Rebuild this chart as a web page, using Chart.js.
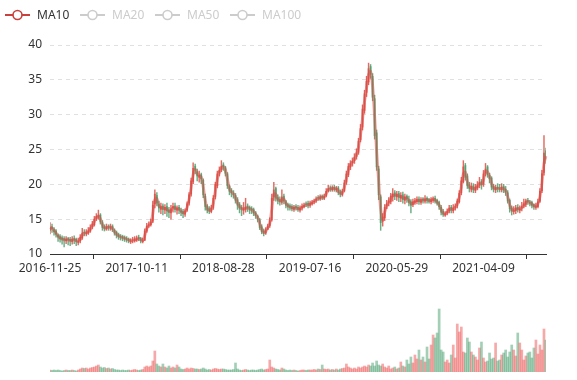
<!DOCTYPE html>
<html><head><meta charset="utf-8">
<script src="https://cdn.jsdelivr.net/npm/chart.js@4.4.1/dist/chart.umd.min.js"></script>
<style>
html,body{margin:0;padding:0;background:#fff;}
#wrap{position:relative;width:577px;height:380px;overflow:hidden;font-family:"Noto Sans",sans-serif;}
#main{position:absolute;left:0;top:0;}
#vol{position:absolute;left:0;top:290px;}
.leg{position:absolute;top:6px;height:18px;font-size:12px;line-height:18px;white-space:nowrap;}
.leg svg{position:absolute;left:0;top:2px;}
.leg span{position:absolute;left:32px;top:0;}
</style></head><body>
<div id="wrap">
<canvas id="main" width="577" height="290"></canvas>
<canvas id="vol" width="577" height="90"></canvas>
<div id="legend"></div>
</div>
<script>
// x-axis tick labels (one every 43 weekly categories)
const tickLabels = ['2016-11-25','2017-10-11','2018-08-28','2019-07-16','2020-05-29','2021-04-09'];
const legendNames = ['MA10','MA20','MA50','MA100'];
const legendActive = [true,false,false,false];

// weekly candles
const opens = [
13.4,13.9,13.5,13.3,12.7,12.5,12.3,12.2,11.9,12.2,
12.1,11.8,12.2,12.1,11.7,11.9,12.3,13.1,12.9,13.0,
13.3,13.9,14.2,15.1,15.3,15.6,14.5,13.9,13.6,14.0,
13.7,14.0,13.4,13.1,12.8,12.5,12.5,12.3,12.2,12.1,
11.8,12.0,11.9,12.0,12.4,12.2,11.8,12.0,13.3,14.1,
14.2,14.7,17.2,18.4,17.1,16.4,16.9,16.3,16.8,16.3,
15.9,16.6,16.9,16.3,16.7,16.2,16.1,15.7,16.3,17.3,
18.6,20.4,22.6,21.8,21.0,21.4,20.6,18.3,16.9,16.5,
16.1,16.7,18.2,19.8,21.6,22.1,22.8,22.4,21.5,19.7,
19.1,18.7,18.4,17.8,17.1,16.7,16.3,16.4,16.9,16.7,
16.5,16.4,15.9,15.4,14.9,13.9,13.3,13.0,13.6,14.1,
14.9,18.2,19.4,18.1,17.8,17.4,18.3,17.5,17.1,16.9,
16.8,16.4,16.8,16.7,16.3,16.6,16.8,17.2,17.3,17.0,
17.2,17.5,17.7,18.1,17.9,18.3,18.0,18.4,19.1,19.5,
19.2,19.6,19.2,19.5,18.9,18.5,19.1,20.3,21.4,22.5,
23.1,23.4,24.0,24.6,26.4,28.2,30.6,33.2,34.7,36.9,
35.5,32.3,27.4,22.2,18.2,14.7,15.2,16.9,17.4,17.5,
18.2,18.8,18.2,18.7,18.0,18.5,17.7,18.3,17.8,17.5,
17.1,17.4,17.5,17.9,17.4,17.9,17.6,18.0,17.8,17.5,
17.7,18.0,17.7,17.4,16.7,16.1,15.6,15.9,16.2,16.7,
16.2,16.7,16.9,17.5,18.8,20.4,22.7,21.2,19.9,19.2,
19.8,19.1,19.5,19.9,20.4,20.0,21.6,22.5,21.3,20.9,
19.7,19.2,19.6,19.5,19.2,19.7,19.3,18.8,17.7,16.6,
16.1,16.2,16.7,16.3,16.6,16.9,17.1,17.7,17.4,17.4,
17.1,16.7,16.8,17.6,19.1,21.7,24.8];
const closes = [
13.8,13.6,13.2,12.8,12.4,12.2,12.1,12.0,12.1,12.0,
11.9,12.1,12.0,11.8,11.8,12.4,13.0,13.0,13.1,13.3,
13.8,14.3,15.0,15.4,15.5,14.6,13.8,13.7,13.9,13.8,
13.9,13.5,13.0,12.7,12.5,12.4,12.3,12.2,12.1,11.9,
11.9,12.0,12.1,12.2,12.2,11.9,12.0,13.3,14.0,14.2,
14.6,17.0,18.6,17.3,16.6,16.8,16.4,16.7,16.2,16.0,
16.5,16.8,16.4,16.6,16.3,16.0,15.8,16.2,17.2,18.5,
20.5,22.3,22.0,21.2,21.3,20.8,18.5,16.8,16.3,16.2,
16.6,18.0,20.0,21.5,22.0,22.6,22.5,21.6,19.8,19.0,
18.8,18.5,17.7,17.0,16.6,16.4,16.5,16.7,16.6,16.4,
16.3,15.9,15.5,15.0,13.8,13.2,13.0,13.5,14.0,14.8,
18.0,19.2,18.0,17.7,17.5,18.2,17.6,17.0,16.8,16.7,
16.5,16.7,16.6,16.4,16.6,16.8,17.0,17.1,17.0,17.3,
17.4,17.6,17.9,18.0,18.2,18.1,18.3,19.0,19.4,19.3,
19.5,19.3,19.4,18.8,18.6,19.0,20.2,21.5,22.6,23.0,
23.3,23.9,24.5,26.2,28.0,30.8,33.0,34.8,36.6,35.8,
32.5,27.0,22.5,18.5,14.5,15.3,16.7,17.2,17.6,18.3,
18.6,18.3,18.6,18.1,18.4,17.8,18.2,17.9,17.4,17.0,
17.5,17.6,17.8,17.5,17.8,17.7,17.9,17.7,17.6,17.8,
17.9,17.6,17.3,16.8,16.0,15.7,15.8,16.1,16.6,16.3,
16.6,16.8,17.6,18.7,20.5,22.5,21.0,19.8,19.4,19.7,
19.2,19.6,19.8,20.3,19.9,21.5,22.2,21.4,20.8,19.6,
19.3,19.5,19.4,19.3,19.6,19.2,18.9,17.6,16.5,16.2,
16.3,16.6,16.4,16.5,16.8,17.2,17.6,17.5,17.3,17.0,
16.8,16.9,17.5,19.0,21.5,24.5,23.6];
const highs = [
14.5,14.3,13.8,13.5,12.9,12.8,12.6,12.5,12.5,12.4,
12.4,12.5,12.6,12.3,12.3,12.8,13.7,13.5,13.5,13.8,
14.2,14.7,15.4,15.8,16.3,15.8,14.8,14.2,14.3,14.2,
14.3,14.2,13.6,13.3,13.0,12.8,12.7,12.6,12.5,12.3,
12.2,12.4,12.5,12.6,12.7,12.4,12.3,13.6,14.4,14.6,
15.0,17.6,19.2,18.8,17.6,17.3,17.2,17.1,17.3,16.7,
17.0,17.3,17.3,16.9,17.0,16.6,16.4,16.5,17.5,18.8,
20.9,23.1,22.9,22.2,21.9,21.6,20.8,18.6,17.1,16.8,
17.0,18.4,20.3,21.9,22.5,23.4,23.1,22.6,21.7,19.9,
19.4,19.1,18.7,18.1,17.4,17.0,17.4,18.0,17.2,16.9,
16.8,16.6,16.1,15.6,15.1,14.2,13.6,13.8,14.3,15.2,
18.6,20.3,19.6,18.5,18.2,19.2,18.6,17.7,17.3,17.2,
17.1,17.0,17.1,17.0,16.9,17.2,17.3,17.5,17.6,17.6,
17.7,17.9,18.2,18.4,18.5,18.5,18.6,19.4,19.9,19.8,
19.8,19.9,19.7,19.7,19.2,19.3,20.6,21.9,23.0,23.4,
23.8,24.4,25.1,26.6,28.6,31.4,33.5,35.5,37.4,37.2,
35.9,32.8,27.8,22.6,18.5,15.8,17.1,17.7,18.1,18.7,
19.4,19.1,19.0,19.0,18.8,18.9,18.6,18.5,18.3,17.8,
17.9,18.0,18.2,18.2,18.1,18.1,18.4,18.2,18.0,18.1,
18.2,18.3,17.9,17.6,17.0,16.4,16.1,16.5,17.0,17.0,
17.1,17.2,17.9,19.1,21.0,23.4,23.0,21.5,20.3,20.2,
20.1,20.0,20.4,21.0,20.7,22.0,23.0,22.7,21.6,21.1,
20.0,19.9,20.1,20.0,20.1,20.0,19.7,19.1,17.9,16.9,
16.8,17.0,17.1,16.9,17.4,17.9,17.9,18.0,17.7,17.6,
17.2,17.3,17.9,19.4,22.0,27.0,25.2];
const lows = [
12.9,13.1,12.7,12.4,11.8,11.7,11.4,11.0,11.5,11.3,
11.2,11.4,11.5,11.2,11.3,11.6,12.1,12.6,12.6,12.8,
13.1,13.6,14.0,14.8,15.0,14.3,13.4,13.3,13.4,13.4,
13.4,13.2,12.7,12.3,12.1,12.0,11.9,11.8,11.7,11.6,
11.5,11.6,11.7,11.8,11.9,11.6,11.6,11.9,13.1,13.8,
14.0,14.5,16.6,16.9,16.0,15.8,15.6,15.8,15.4,15.2,
15.0,16.0,16.0,15.7,15.8,15.5,15.2,15.4,16.1,17.0,
18.3,20.1,21.5,20.5,20.3,20.1,18.1,16.3,15.9,15.8,
15.9,16.4,17.9,19.5,21.2,21.8,22.0,21.2,19.4,18.5,
18.2,18.0,17.3,16.4,15.9,15.5,15.7,16.0,16.1,15.8,
15.8,15.5,15.1,14.6,13.5,12.9,12.6,12.8,13.5,13.8,
14.7,17.7,17.6,17.2,17.0,17.1,17.2,16.6,16.3,16.3,
16.2,16.1,16.3,16.1,16.0,16.3,16.6,16.8,16.6,16.7,
17.0,17.2,17.4,17.7,17.7,17.8,17.8,18.2,18.9,19.0,
19.0,19.0,18.9,18.5,18.2,18.3,18.9,20.0,21.1,22.1,
22.6,23.0,23.6,24.3,26.1,27.8,30.2,32.6,34.3,35.2,
32.0,26.5,22.0,17.8,13.4,14.0,14.8,16.5,16.9,17.2,
17.6,17.8,17.7,17.5,17.5,17.3,17.2,17.4,16.9,15.9,
16.8,17.1,17.2,17.1,17.1,17.3,17.3,17.3,17.3,17.2,
17.4,17.3,17.0,16.4,15.6,15.4,15.4,15.6,15.9,15.9,
15.9,16.3,16.6,17.3,18.5,20.2,20.6,19.4,18.9,18.9,
18.8,18.8,19.2,19.5,19.3,19.7,21.2,21.0,20.2,19.2,
18.9,18.8,18.9,18.9,18.9,18.8,18.4,17.3,16.0,15.6,
15.7,15.8,16.0,15.9,16.2,16.6,16.8,17.1,16.9,16.6,
16.4,16.4,16.6,17.4,18.8,21.3,23.0];
const volumes = [
2,1.5,2,1.5,2,1.5,1,1.5,2,1.5,
1.5,2,1.5,1,2,3,4,3.5,4,3,
4,4.5,5,6,7,5,4,4.5,3.5,4,
3,3.5,2.5,2,2,1.5,2,1.5,1.5,2,
1.5,2,2.5,2,1.5,2,2.5,5,6,5,
6,11,21,8,6,5,8,5,4,6,
4,5,4,7,5,3,2.5,3,4,3,
4,3.5,3,3,2.5,3,4,3,2,2.5,
2,3,3.5,3,2.5,3,3,2.5,2,2,
2,2.5,9,3,2,1.5,2,2.5,2,1.5,
2,2,1.5,2,2.5,3,2,2.5,3,12,
5,4,3,2.5,2,4,3,2,1.5,2,
1.5,2,1.5,1,1.5,2,2,1.5,2,2,
2,2.5,2,3,2.5,7,3,2.5,3,2,
2.5,2,3,2,3,3.5,4,8,5,4,
3,4,3,5,4,5,6,5,7,6,
9,6,11,7,6,8,5,4,6,3,
4,5,3,4,10,6,5,12,8,15,
9,17,13,22,12,15,10,25,13,27,
37,34,39,63,22,20,10,12,9,17,
27,14,48,40,45,20,19,34,30,20,
17,15,12,24,30,14,10,11,19,13,
14,29,11,12,17,19,22,15,20,27,
22,16,39,29,22,12,16,19,20,14,
24,32,18,27,22,43,32];

const UP = 'rgba(222,80,70,0.85)', DOWN = 'rgba(80,160,110,0.85)';
const FONT = '"Noto Sans", sans-serif';
const TICK_EVERY = 43;
const labels = closes.map((_, i) => i);
const isUp = closes.map((c, i) => c >= opens[i]);
const candleColors = isUp.map(u => u ? UP : DOWN);
const volColors = isUp.map(u => u ? 'rgba(235,84,84,0.5)' : 'rgba(71,160,110,0.5)');
// MA10 (10 trading days ~ 2 weekly candles)
const ma10 = closes.map((c, i) => i === 0 ? c : (c + closes[i - 1]) / 2);

// legend
const legEl = document.getElementById('legend');
legendNames.forEach((name, i) => {
  const col = legendActive[i] ? '#c9403c' : '#ccc';
  const d = document.createElement('div');
  d.className = 'leg';
  d.style.left = (5 + i * 75) + 'px';
  d.innerHTML = '<svg width="25" height="14"><line x1="0" y1="7" x2="25" y2="7" stroke="' + col + '" stroke-width="2"/>' +
    '<circle cx="12.5" cy="7" r="4.5" fill="#fff" stroke="' + col + '" stroke-width="1.6"/></svg>' +
    '<span style="color:' + (legendActive[i] ? '#333' : '#ccc') + '">' + name + '</span>';
  legEl.appendChild(d);
});

new Chart(document.getElementById('main'), {
  data: {
    labels,
    datasets: [
      { type: 'line', label: 'MA10', data: ma10, borderColor: 'rgba(215,75,70,0.5)', borderWidth: 3,
        pointRadius: 0, tension: 0.3, order: 0 },
      { type: 'bar', label: 'body', data: opens.map((o, i) => [o, closes[i]]), backgroundColor: candleColors,
        barThickness: 1.2, grouped: false, order: 1 },
      { type: 'bar', label: 'wick', data: lows.map((l, i) => [l, highs[i]]), backgroundColor: candleColors,
        barThickness: 0.8, grouped: false, order: 2 }
    ]
  },
  options: {
    responsive: false, animation: false, devicePixelRatio: 1,
    layout: { padding: { left: 0, right: 31, top: 45, bottom: 0 } },
    plugins: { legend: { display: false }, tooltip: { enabled: false } },
    scales: {
      x: {
        type: 'category', offset: false,
        grid: { drawOnChartArea: false, drawTicks: true, tickLength: 5, tickColor: '#333', color: '#333' },
        border: { display: true, color: '#333', width: 1 },
        ticks: { autoSkip: false, maxRotation: 0, padding: 2, color: '#333', font: { size: 12, family: FONT },
          callback: (v) => tickLabels[Math.round(v / TICK_EVERY)] },
        afterBuildTicks: s => { s.ticks = s.ticks.filter(t => t.value % TICK_EVERY === 0 && t.value / TICK_EVERY < tickLabels.length); },
        afterFit: s => { s.height = 36; }
      },
      y: {
        min: 10, max: 40,
        ticks: { stepSize: 5, padding: 8, color: '#333', font: { size: 12, family: FONT } },
        grid: { color: '#e0e0e0', drawTicks: false },
        border: { display: false, dash: [4, 4] },
        afterFit: s => { s.width = 50; }
      }
    }
  }
});

new Chart(document.getElementById('vol'), {
  type: 'bar',
  data: { labels, datasets: [{ data: volumes, backgroundColor: volColors, categoryPercentage: 1, barPercentage: 1 }] },
  options: {
    responsive: false, animation: false, devicePixelRatio: 1,
    layout: { padding: { left: 50, right: 31, top: 0, bottom: 8 } },
    plugins: { legend: { display: false }, tooltip: { enabled: false } },
    scales: {
      x: { type: 'category', offset: false, display: false },
      y: { min: 0, max: 82, display: false }
    }
  }
});
</script>
</body></html>
